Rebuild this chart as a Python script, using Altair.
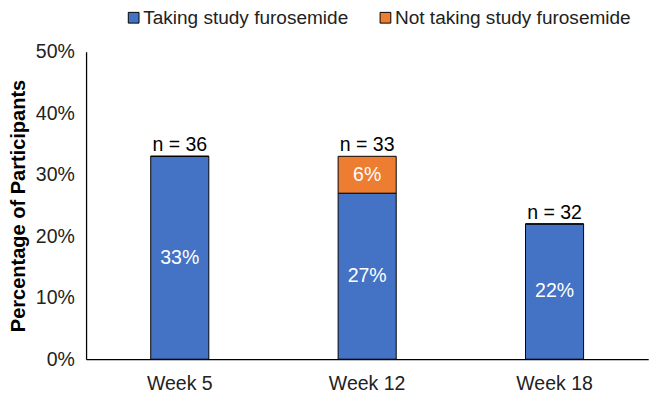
import altair as alt
import pandas as pd

weeks = ["Week 5", "Week 12", "Week 18"]
taking = [33, 27, 22]
not_taking = [0, 6, 0]
n_counts = [36, 33, 32]
series = ["Taking study furosemide", "Not taking study furosemide"]
colors = ["#4472C4", "#ED7D31"]

rows = []
for w, t, nt in zip(weeks, taking, not_taking):
    rows.append({"week": w, "series": series[0], "value": t, "order": 0,
                 "mid": t / 2})
    rows.append({"week": w, "series": series[1], "value": nt, "order": 1,
                 "mid": t + nt / 2})
df = pd.DataFrame(rows)
df["label"] = df["value"].astype(int).astype(str) + "%"
lab_df = df[df["value"] > 0]

tot_df = pd.DataFrame({
    "week": weeks,
    "total": [t + nt for t, nt in zip(taking, not_taking)],
    "nlab": [f"n = {n}" for n in n_counts],
})

FONT = "Liberation Sans"
FS = 20
xenc = alt.X("week:N", sort=weeks, title=None,
             scale=alt.Scale(paddingInner=0.69, paddingOuter=0.345),
             axis=alt.Axis(labelAngle=0, labelFontSize=FS, labelColor="#222",
                           ticks=False, domainColor="#000", domainWidth=1.3,
                           labelPadding=15, labelFont=FONT))
yscale = alt.Scale(domain=[0, 50])

bars = alt.Chart(df).mark_bar(stroke="#000", strokeWidth=1).encode(
    x=xenc,
    y=alt.Y("value:Q", stack="zero", scale=yscale,
            title="Percentage of Participants",
            axis=alt.Axis(values=[0, 10, 20, 30, 40, 50], labelExpr="datum.value + '%'",
                          grid=False, ticks=False, domainColor="#000",
                          domainWidth=1.3, labelFontSize=FS, labelColor="#222",
                          labelFont=FONT, labelPadding=12,
                          titleFont=FONT, titleFontSize=20.5, titleFontWeight="bold",
                          titleColor="#000", titlePadding=7)),
    color=alt.Color("series:N", sort=series,
                    scale=alt.Scale(domain=series, range=colors),
                    legend=alt.Legend(title=None, orient="none", direction="horizontal",
                                      legendX=39, legendY=-45, padding=0,
                                      symbolType="square",
                                      symbolSize=121, symbolStrokeColor="#000",
                                      symbolStrokeWidth=1, labelFontSize=19.5,
                                      labelFont=FONT, labelColor="#222",
                                      labelLimit=0,
                                      columnPadding=28, symbolOffset=0, labelOffset=0)),
    order=alt.Order("order:Q"),
)

pct = alt.Chart(lab_df).mark_text(color="white", fontSize=FS, font=FONT).encode(
    x=alt.X("week:N", sort=weeks),
    y=alt.Y("mid:Q", scale=yscale),
    text="label:N",
)

ntext = alt.Chart(tot_df).mark_text(color="#000", fontSize=FS, font=FONT,
                                    baseline="bottom", dy=-1).encode(
    x=alt.X("week:N", sort=weeks),
    y=alt.Y("total:Q", scale=yscale),
    text="nlab:N",
)

chart = alt.layer(bars, pct, ntext).properties(
    width=576, height=315,
    autosize=alt.AutoSizeParams(type="none"),
    padding={"left": 80, "top": 40, "right": 10, "bottom": 40},
).configure_view(stroke=None)

chart.save("out.html", embed_options={"renderer": "svg", "actions": False})
